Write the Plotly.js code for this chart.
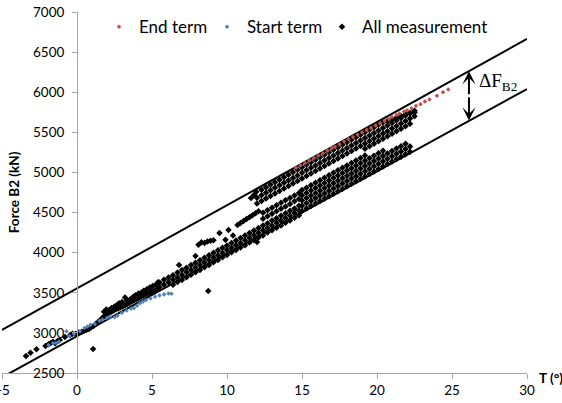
<!DOCTYPE html>
<html><head><meta charset="utf-8">
<script src="https://cdn.plot.ly/plotly-3.0.1.min.js"></script>
<style>html,body{margin:0;padding:0;background:#fff}#chart{width:562px;height:403px}</style>
</head><body><div id="chart"></div>
<script>
// ---- tick labels ----
var xTickVals = [-5,0,5,10,15,20,25,30];
var yTickVals = [2500,3000,3500,4000,4500,5000,5500,6000,6500,7000];

// ---- boundary lines ----
var upperX = [-5,30], upperY = [3036,6665];
var lowerX = [-5,30], lowerY = [2446,6040];

// ---- End term (red) ----
var endX = [14.6,14.9,15.2,15.5,15.8,16.1,16.4,16.7,17.0,17.2,17.5,17.8,18.1,18.4,18.7,19.0,19.3,19.6,19.9,20.2,20.5,20.8,21.0,21.3,21.5,21.8,22.0,22.3,22.6,22.9,23.2,23.5,24.0,24.4,24.75];
var endY = [5058,5088,5118,5150,5180,5212,5240,5272,5305,5320,5350,5385,5415,5442,5470,5500,5530,5555,5585,5612,5640,5665,5690,5716,5735,5760,5775,5800,5830,5850,5885,5910,5955,6000,6035];

// ---- Start term (blue) ----
var startX = [-1.9,-1.6,-1.4,-1.2,-0.7,-0.5,-0.2,0.2,0.5,0.7,0.9,1.2,1.5,1.7,2.0,2.2,2.5,2.7,3.0,3.3,3.6,3.8,4.0,4.2,4.4,4.6,4.9,5.2,5.5,5.8,6.1,6.3];
var startY = [2850,2870,2875,2890,3020,2960,2985,3020,3060,3080,3100,3110,3150,3165,3185,3200,3195,3215,3250,3280,3300,3310,3340,3370,3390,3410,3430,3450,3465,3480,3490,3488];

// ---- All measurement (black), read band by band ----
var lowTX = [-3.4,-3.1,-2.7,-2.1,-1.9,-1.75,-1.6,-1.45,-1.3,-1.15,-0.8,-0.45,-0.3,-0.1,0.1,0.3,0.5,0.65,0.8,1.07,8.75,12.0,11.6,11.8,11.95,6.8,7.9,9.9,10.4];
var lowTY = [2712,2752,2795,2836,2858,2875,2888,2872,2900,2910,2950,2975,2990,2985,3005,3012,3030,3040,3050,2799,3522,4133,4680,4720,4760,3845,3960,4160,4215];

var earlyX = [0.95,1.1,1.25,1.4,1.55,1.7,1.85,2.0,2.15,2.3,2.45,2.6,2.75,2.9,3.05,3.2,3.35,3.5,3.65,3.8,3.95,4.1,4.25,4.4,4.55,4.7,4.85,5.0,5.15,5.3,
              1.8,1.95,2.1,2.3,2.5,2.65,2.8,3.0,3.2,3.35,3.55,3.75,3.9,4.1,4.3,4.45,4.65,4.85,5.05,5.25,5.4];
var earlyY = [3070,3085,3110,3135,3160,3190,3215,3235,3250,3265,3280,3295,3305,3320,3330,3345,3360,3375,3390,3405,3420,3435,3450,3462,3475,3490,3500,3515,3525,3540,
              3265,3290,3280,3310,3330,3345,3370,3385,3440,3400,3420,3450,3470,3490,3505,3525,3545,3565,3585,3600,3630];

var mainX = [5.5,5.8,6.1,6.4,6.7,7.0,7.3,7.6,7.9,8.2,8.5,8.8,9.1,9.4,9.7,10.0,10.3,10.6,10.9,11.2,11.5,11.8,12.1,12.4,12.7,13.0,13.3,13.6,13.9,14.2,14.5,14.8];
var mainLoY = [null,null,null,3600,3634,3660,3695,3724,3757,3785,3818,3846,3880,3908,3942,3970,4004,4032,4064,4093,4126,4155,4188,4215,4250,4278,4312,4340,4374,4401,4435,4465];
var mainMidY = [3570,3600,3630,3662,3690,3722,3755,3785,3815,3846,3878,3908,3940,3968,4000,4032,4062,4094,4122,4155,4186,4216,4248,4278,4308,4340,4372,4400,4432,4462,4494,4525];
var mainHiY = [3628,3662,3690,3720,3752,3785,3812,3846,3874,3905,3938,3968,3998,4030,4060,4090,4122,4152,4184,4215,4244,4276,4306,4338,4368,4400,4430,4460,4492,4522,4552,4585];

var thinX = [8.1,8.3,8.5,8.7,8.9,9.1,9.5,10.1,10.7,10.9,11.1,11.3,11.5,11.7,11.9,12.1];
var thinY = [4100,4130,4120,4140,4150,4155,4245,4282,4345,4370,4395,4420,4440,4465,4490,4515];

var midX = [12.4,12.7,13.0,13.3,13.6,13.9,14.2,14.5,14.8];
var mid1Y = [4422,4455,4484,4515,4546,4577,4607,4640,4669];
var mid2Y = [4497,4528,4560,4590,4621,4652,4682,4713,4744];

var topX = [12.0,12.3,12.6,12.9,13.2,13.5,13.8,14.1,14.4,14.7,15.0,15.3,15.6,15.9,16.2,16.5,16.8,17.1,17.4,17.7,18.0,18.3,18.6,18.9,19.2,19.5,19.8,20.1,20.4,20.7,21.0,21.3,21.6,21.9,22.2,22.5];
var top1Y = [null,4785,4816,4847,4878,4909,4940,4971,5002,5033,5065,5096,5127,5158,5189,5220,5251,5282,5313,5344,5376,5407,5438,5469,5500,5531,5562,5593,5624,5640,5662,5683,5704,5725,5736,5747];
var top2Y = [4683,4715,4746,4777,4808,4839,4870,4901,4932,4963,4995,5026,5057,5088,5119,5150,5181,5212,5243,5274,5306,5337,5368,5399,5430,5461,5492,5523,5554,5585,5617,5648,5679,5710,5741,5770];
var top3Y = [4613,4645,4676,4707,4738,4769,4800,4831,4862,4893,4925,4956,4987,5018,5049,5080,5111,5142,5173,5204,5236,5267,5298,5329,5360,5391,5422,5453,5484,5515,5547,5578,5609,5640,5671,5700];
var top4Y = [null,null,null,null,null,null,null,null,null,null,null,null,null,null,null,null,null,null,null,null,null,null,null,null,5295,5326,5357,5388,5419,5450,5482,5513,5544,5575,5606,null];

var lowX = [15.0,15.3,15.6,15.9,16.2,16.5,16.8,17.1,17.4,17.7,18.0,18.3,18.6,18.9,19.2,19.5,19.8,20.1,20.4,20.7,21.0,21.3,21.6,21.9,22.2];
var low1Y = [4520,4550,4581,4612,4643,4674,4704,4735,4766,4797,4828,4858,4889,4920,4951,4982,5012,5043,5074,5105,5136,5167,5197,5228,5259];
var low2Y = [4585,4615,4646,4677,4708,4739,4769,4800,4831,4862,4893,4923,4954,4985,5016,5047,5077,5108,5139,5170,5201,5232,5262,5293,5324];
var low3Y = [4650,4680,4711,4742,4773,4804,4834,4865,4896,4927,4958,4988,5019,5050,5081,5112,5142,5173,5204,5235,5266,5297,5327,5358,null];
var low4Y = [4715,4745,4776,4807,4838,4869,4899,4930,4961,4992,5023,5053,5084,5115,5146,5177,5207,5238,5269,null,null,null,null,null,null];
var low5Y = [4780,4810,4841,4872,4903,4934,4964,4995,5026,5057,5088,5118,5149,5180,5211,null,null,null,null,null,null,null,null,null,null];

// assemble the black series
var allX = [], allY = [];
function addRows(xs, ys){ for (var i=0;i<xs.length;i++){ if (ys[i]!==null){ allX.push(xs[i]); allY.push(ys[i]); } } }
addRows(lowTX, lowTY); addRows(earlyX, earlyY);
addRows(mainX, mainLoY); addRows(mainX, mainMidY); addRows(mainX, mainHiY);
addRows(thinX, thinY); addRows(midX, mid1Y); addRows(midX, mid2Y);
addRows(topX, top1Y); addRows(topX, top2Y); addRows(topX, top3Y); addRows(topX, top4Y);
addRows(lowX, low1Y); addRows(lowX, low2Y); addRows(lowX, low3Y); addRows(lowX, low4Y); addRows(lowX, low5Y);

var RED = '#C0504D', BLUE = '#4F81BD', AXC = '#a6a6a6';

var traces = [
  {x: upperX, y: upperY, mode:'lines', line:{color:'#000', width:2}, showlegend:false, hoverinfo:'skip'},
  {x: lowerX, y: lowerY, mode:'lines', line:{color:'#000', width:2}, showlegend:false, hoverinfo:'skip'},
  {x: allX, y: allY, mode:'markers', name:'All measurement', legend:'legend3',
   marker:{symbol:'diamond', size:5, color:'#000'}},
  {x: startX, y: startY, mode:'markers', name:'Start term', legend:'legend2',
   marker:{symbol:'diamond', size:3.5, color:BLUE}},
  {x: endX, y: endY, mode:'markers', name:'End term', legend:'legend',
   marker:{symbol:'diamond', size:3.5, color:RED}}
];

var legBase = {orientation:'h', xanchor:'left', yanchor:'middle', y:0.958,
  bgcolor:'rgba(0,0,0,0)', font:{family:'Lato, sans-serif', size:17, color:'#000'}};

var layout = {
  width:562, height:403,
  margin:{l:2, r:35, t:12, b:30},
  paper_bgcolor:'#fff', plot_bgcolor:'#fff',
  font:{family:'Lato, sans-serif', size:13, color:'#000'},
  showlegend:true,
  legend: Object.assign({}, legBase, {x:0.1848}),
  legend2: Object.assign({}, legBase, {x:0.3905}),
  legend3: Object.assign({}, legBase, {x:0.6095}),
  xaxis:{range:[-5,30], tickmode:'array', tickvals:xTickVals, showline:true, linecolor:AXC, linewidth:1,
         ticks:'outside', ticklen:5, tickcolor:AXC, showgrid:false, zeroline:false,
         ticklabeloverflow:'allow', tickfont:{size:13.5, color:'#000'}, fixedrange:true},
  yaxis:{range:[2500,7000], tickmode:'array', tickvals:yTickVals, anchor:'free', position:0.142857,
         showline:true, linecolor:AXC, linewidth:1, ticks:'outside', ticklen:5, tickcolor:AXC,
         showgrid:false, zeroline:false, ticklabeloverflow:'allow', tickfont:{size:13.5, color:'#000'},
         ticklabelstandoff:5, fixedrange:true},
  annotations:[
    {x:26.13, y:6262, ax:26.13, ay:5955, xref:'x', yref:'y', axref:'x', ayref:'y', text:'',
     showarrow:true, arrowhead:3, arrowsize:1.1, arrowwidth:2, arrowcolor:'#000'},
    {x:26.13, y:5648, ax:26.13, ay:5955, xref:'x', yref:'y', axref:'x', ayref:'y', text:'',
     showarrow:true, arrowhead:3, arrowsize:1.1, arrowwidth:2, arrowcolor:'#000'},
    {x:26.67, y:6127, xref:'x', yref:'y', xanchor:'left', yanchor:'middle', showarrow:false,
     text:'ΔF<sub>B2</sub>', font:{family:'Liberation Serif, serif', size:19, color:'#000'}},
    {xref:'paper', yref:'paper', x:0.0229, y:0.501, xanchor:'center', yanchor:'middle', textangle:-90, showarrow:false,
     text:'<b>Force B2 (kN)</b>', font:{size:13.5, color:'#000'}},
    {xref:'paper', yref:'paper', x:1.0457, y:-0.0139, xanchor:'center', yanchor:'middle', showarrow:false,
     text:'<b>T (°)</b>', font:{size:13.5, color:'#000'}}
  ]
};

Plotly.newPlot('chart', traces, layout, {displayModeBar:false, staticPlot:true});
</script></body></html>
